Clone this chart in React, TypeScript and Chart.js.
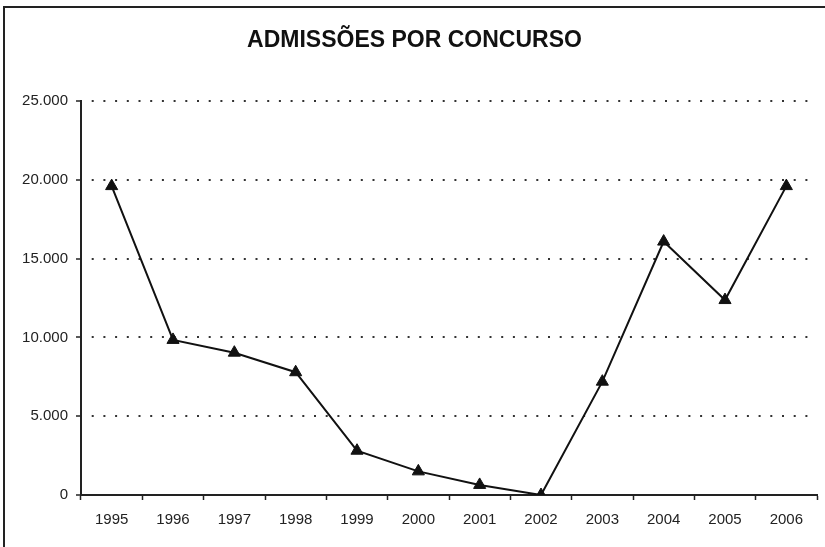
import React, { useEffect, useRef } from "react";
import { Chart, registerables } from "chart.js";

Chart.register(...registerables);

const TITLE = "ADMISSÕES POR CONCURSO";
const YEARS = ["1995", "1996", "1997", "1998", "1999", "2000", "2001", "2002", "2003", "2004", "2005", "2006"];
const ADMISSOES = [19600, 9840, 9030, 7790, 2810, 1500, 640, 0, 7190, 16080, 12370, 19600];
const Y_MIN = 0;
const Y_MAX = 25000;
const Y_STEP = 5000;

const fmt = (v: number) => {
  if (v === 0) return "0";
  const s = Math.round(v).toString();
  return s.replace(/\B(?=(\d{3})+(?!\d))/g, ".");
};

export default function App() {
  const ref = useRef<HTMLCanvasElement | null>(null);

  useEffect(() => {
    if (!ref.current) return;
    const chart = new Chart(ref.current, {
      type: "line",
      data: {
        labels: YEARS,
        datasets: [
          {
            label: "Admissões",
            data: ADMISSOES,
            borderColor: "#111",
            backgroundColor: "#111",
            borderWidth: 2,
            pointStyle: "triangle",
            pointRadius: 7,
            pointBorderWidth: 1,
            pointBackgroundColor: "#111",
            pointBorderColor: "#111",
            tension: 0,
            fill: false,
          },
        ],
      },
      options: {
        responsive: false,
        animation: false,
        layout: { padding: { left: 10, right: 6, top: 7, bottom: 0 } },
        plugins: {
          legend: { display: false },
          tooltip: { enabled: false },
          title: {
            display: true,
            text: TITLE,
            color: "#111",
            font: { family: "'Liberation Sans', Arial, sans-serif", size: 23, weight: "bold" },
            padding: { top: 20, bottom: 46.4 },
          },
        },
        scales: {
          x: {
            type: "category",
            offset: true,
            border: { display: true, color: "#222", width: 2 },
            grid: {
              offset: true,
              drawOnChartArea: false,
              drawTicks: true,
              tickLength: 5,
              tickColor: "#222",
              tickWidth: 1.5,
            },
            ticks: {
              color: "#222",
              font: { family: "'Liberation Sans', Arial, sans-serif", size: 15 },
              padding: 11,
              maxRotation: 0,
              autoSkip: false,
            },
            afterFit: (scale: any) => {
              scale.height = 52;
            },
          },
          y: {
            min: Y_MIN,
            max: Y_MAX,
            border: { display: true, color: "#222", width: 2, dash: [2, 9.7], dashOffset: -9.7 },
            grid: {
              color: (ctx: any) => (ctx.tick && ctx.tick.value === 0 ? "rgba(0,0,0,0)" : "#333"),
              lineWidth: 2,
              drawTicks: true,
              tickLength: 5,
              tickColor: "#222",
              tickWidth: 1.5,
              tickBorderDash: [],
            },
            ticks: {
              stepSize: Y_STEP,
              color: "#222",
              font: { family: "'Liberation Sans', Arial, sans-serif", size: 15 },
              padding: 8,
              callback: (v: any) => fmt(Number(v)),
            },
            afterFit: (scale: any) => {
              scale.width = 71;
            },
          },
        },
      },
    });
    return () => chart.destroy();
  }, []);

  return (
    <div style={{ position: "fixed", left: 0, top: 0, width: 825, height: 547, background: "#fff" }}>
      <canvas ref={ref} width={825} height={547} style={{ position: "absolute", left: 0, top: 0 }} />
      <div
        style={{
          position: "absolute",
          left: 3,
          top: 6,
          width: 840,
          height: 560,
          borderLeft: "2px solid #222",
          borderTop: "2px solid #222",
          pointerEvents: "none",
        }}
      />
    </div>
  );
}
